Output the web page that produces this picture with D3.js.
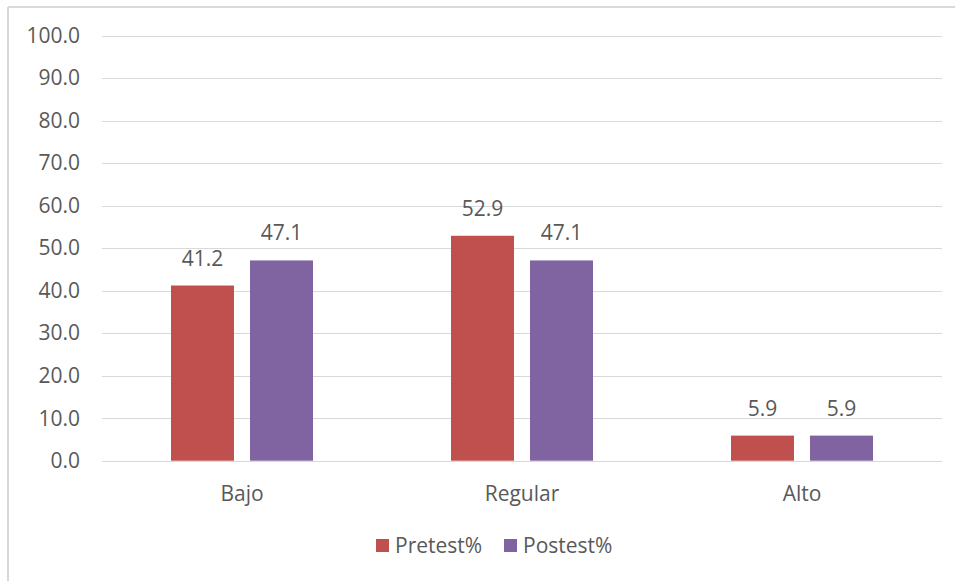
<!DOCTYPE html>
<html>
<head>
<meta charset="utf-8">
<script src="https://cdn.jsdelivr.net/npm/d3@7"></script>
<style>
  body { margin: 0; background: #fff; }
  text { font-family: "Open Sans", Lato, sans-serif; fill: #595959; }
</style>
</head>
<body>
<div class="graphHere"></div>
<script>
var categories = ["Bajo", "Regular", "Alto"];
var seriesNames = ["Pretest%", "Postest%"];
var pretest = [41.2, 52.9, 5.9];
var postest = [47.1, 47.1, 5.9];
var yTicks = [0, 10, 20, 30, 40, 50, 60, 70, 80, 90, 100];
var colors = ["#C0504D", "#8064A2"];

var dims = { width: 958, height: 581 };
var plot = { left: 102, right: 942, top: 35.5, bottom: 460.7 };
var fontSize = 21;

var svg = d3.select(".graphHere").append("svg")
  .attr("width", dims.width)
  .attr("height", dims.height);

// chart frame (only top and left edges are visible in the picture)
svg.append("line").attr("x1", 8).attr("x2", 955).attr("y1", 7).attr("y2", 7)
  .attr("stroke", "#d9d9d9").attr("stroke-width", 2);
svg.append("line").attr("x1", 8).attr("x2", 8).attr("y1", 7).attr("y2", 581)
  .attr("stroke", "#d9d9d9").attr("stroke-width", 2);

var y = d3.scaleLinear().domain([0, 100]).range([plot.bottom, plot.top]);
var x0 = d3.scaleBand().domain(categories).range([plot.left, plot.right]);
var groupW = 142;
var x1 = d3.scaleBand().domain(seriesNames).range([0, groupW]).paddingInner(0.2025);

// gridlines
svg.append("g").selectAll("line").data(yTicks).enter().append("line")
  .attr("x1", plot.left).attr("x2", plot.right)
  .attr("y1", function(d){ return Math.round(y(d)) + 0.5; })
  .attr("y2", function(d){ return Math.round(y(d)) + 0.5; })
  .attr("stroke", "#d9d9d9").attr("stroke-width", 1);

// y tick labels
svg.append("g").selectAll("text").data(yTicks).enter().append("text")
  .attr("x", 80)
  .attr("y", function(d){ return y(d); })
  .attr("dy", "0.35em")
  .attr("text-anchor", "end")
  .attr("font-size", fontSize)
  .text(function(d){ return d.toFixed(1); });

var table = [];
categories.forEach(function(c, i){
  table.push({ cat: c, s: seriesNames[0], v: pretest[i], color: colors[0] });
  table.push({ cat: c, s: seriesNames[1], v: postest[i], color: colors[1] });
});

function barX(d){
  return x0(d.cat) + (x0.bandwidth() - groupW) / 2 + x1(d.s);
}

svg.append("g").selectAll("rect").data(table).enter().append("rect")
  .attr("x", barX)
  .attr("y", function(d){ return y(d.v); })
  .attr("width", x1.bandwidth())
  .attr("height", function(d){ return y(0) - y(d.v); })
  .attr("fill", function(d){ return d.color; });

// data labels
svg.append("g").selectAll("text").data(table).enter().append("text")
  .attr("x", function(d){ return barX(d) + x1.bandwidth() / 2; })
  .attr("y", function(d){ return y(d.v) - 20; })
  .attr("text-anchor", "middle")
  .attr("font-size", fontSize)
  .text(function(d){ return d.v.toFixed(1); });

// category labels
svg.append("g").selectAll("text").data(categories).enter().append("text")
  .attr("x", function(d){ return x0(d) + x0.bandwidth() / 2; })
  .attr("y", 501)
  .attr("text-anchor", "middle")
  .attr("font-size", fontSize)
  .text(function(d){ return d; });

// legend
var legendX = [376, 504];
var legend = svg.append("g").selectAll("g").data(seriesNames).enter().append("g")
  .attr("transform", function(d, i){ return "translate(" + legendX[i] + ",539)"; });
legend.append("rect").attr("width", 13).attr("height", 13)
  .attr("fill", function(d, i){ return colors[i]; });
legend.append("text").attr("x", 19).attr("y", 14)
  .attr("font-size", fontSize)
  .text(function(d){ return d; });
</script>
</body>
</html>
